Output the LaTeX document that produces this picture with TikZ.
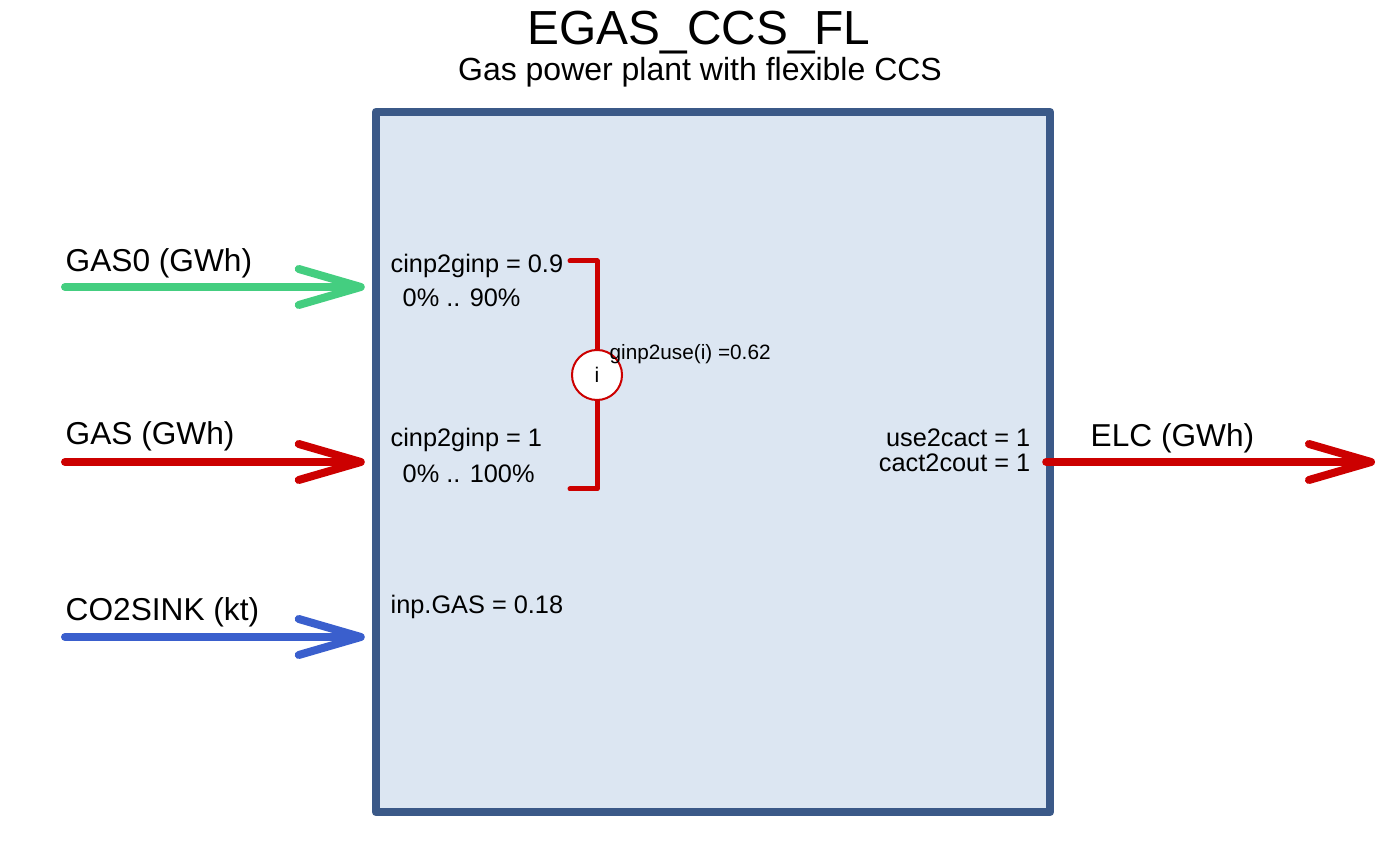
\documentclass[tikz,border=0pt]{standalone}
\usepackage{fontspec}
\setmainfont{Liberation Sans}
\usepackage{tikz}
\usetikzlibrary {arrows.meta,
                 positioning}
\definecolor{gasgreen}{RGB}{68,206,128}
\definecolor{gasred}{RGB}{204,0,0}
\definecolor{sinkblue}{RGB}{58,95,205}
\definecolor{boxline}{RGB}{59,89,136}
\definecolor{boxfill}{RGB}{220,230,242}
\tikzset{
         procbox/.style={draw=boxline, fill=boxfill, line width=0.8mm, line join=round, minimum width=6.74cm, minimum height=7cm, inner sep=0pt},
         flow/.style={line width=0.8mm, line cap=round, -{Straight Barb[length=6.2mm, width=3.6mm, round]}},
         commlabel/.style={font=\fontsize{9}{11}\selectfont, inner sep=0pt, anchor=base west},
         partext/.style={font=\fontsize{7.2}{8.6}\selectfont, inner sep=0pt, anchor=base west},
         bracket/.style={draw=gasred, line width=0.5mm, line cap=round, line join=round},
         groupnode/.style={circle, draw=gasred, line width=0.2mm, fill=white, minimum size=0.5cm, inner sep=0pt, font=\fontsize{6}{7}\selectfont},
}

\begin{document}
\begin{tikzpicture}[x=0.01cm, y=-0.01cm]
    \useasboundingbox (0,0) rectangle (1400,865);

    % Titel
    \node[anchor=base, inner sep=0pt, font=\fontsize{13.6}{16}\selectfont] (title) at (699,45) {EGAS\_CCS\_FL};
    \node[anchor=base, inner sep=0pt, font=\fontsize{9.1}{11}\selectfont] (subtitle) at (700,81) {Gas power plant with flexible CCS};

    % Prozess
    \node[procbox] (proc) at (713,462) {};

    % Eingaenge
    \coordinate (gas0) at (65,287);
    \coordinate (gas) at (65,462);
    \coordinate (sink) at (65,637);
    \draw[flow, gasgreen] (gas0) -- ([xshift=-0.7mm]proc.west |- gas0);
    \draw[flow, gasred] (gas) -- ([xshift=-0.7mm]proc.west |- gas);
    \draw[flow, sinkblue] (sink) -- ([xshift=-0.7mm]proc.west |- sink);
    \node[commlabel] (gas0_text) at (65,272) {GAS0 (GWh)};
    \node[commlabel] (gas_text) at (65,445) {GAS (GWh)};
    \node[commlabel] (sink_text) at (65,621) {CO2SINK (kt)};

    % Ausgang
    \coordinate (elc) at (1375,462);
    \draw[flow, gasred] ([xshift=-0.8mm]proc.east) -- (elc);
    \node[commlabel] (elc_text) at (1090,447) {ELC (GWh)};

    % Gruppe
    \coordinate (b1) at (570,261);
    \coordinate (b2) at (597,261);
    \coordinate (b3) at (597,489);
    \coordinate (b4) at (570,489);
    \draw[bracket] (b1) -- (b2) -- (b3) -- (b4);
    \node[groupnode] (grp) at (597,375) {i};
    \node[partext, font=\fontsize{5.9}{7}\selectfont] (grp_text) at (609,360) {ginp2use(i) =0.62};

    % Parameter
    \node[partext] (p1) at (390,273) {cinp2ginp = 0.9};
    \node[partext] (p1r) at (402,307) {0\% .. 90\%};
    \node[partext] (p2) at (390,447) {cinp2ginp = 1};
    \node[partext] (p2r) at (402,483) {0\% .. 100\%};
    \node[partext] (p3) at (390,614) {inp.GAS = 0.18};
    \node[partext, anchor=base east] (o1) at (1031,447) {use2cact = 1};
    \node[partext, anchor=base east] (o2) at (1031,472) {cact2cout = 1};

\end{tikzpicture}
\end{document}
